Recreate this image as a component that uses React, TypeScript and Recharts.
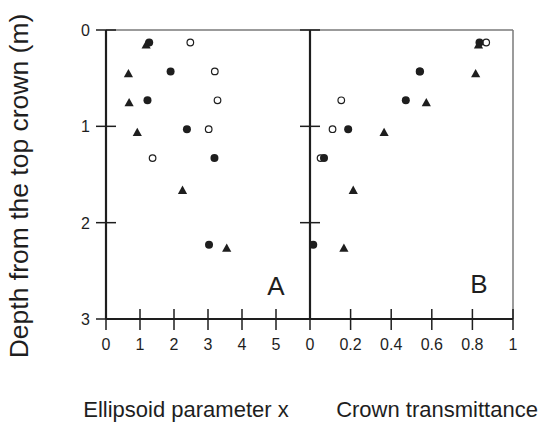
import { ScatterChart, Scatter, XAxis, YAxis, ReferenceLine } from 'recharts';

// depth from the top of the crown (m)
const depthOpen = [0.13, 0.43, 0.73, 1.03, 1.33];
const depthFilled = [0.13, 0.43, 0.73, 1.03, 1.33, 2.23];
const depthTri = [0.15, 0.45, 0.75, 1.06, 1.66, 2.26];

// panel A: ellipsoid parameter x
const ellOpen = [2.48, 3.2, 3.28, 3.02, 1.37];
const ellFilled = [1.27, 1.9, 1.22, 2.38, 3.19, 3.03];
const ellTri = [1.18, 0.66, 0.68, 0.92, 2.25, 3.55];

// panel B: crown transmittance
const trOpen = [0.868, 0.54, 0.154, 0.111, 0.052];
const trFilled = [0.835, 0.542, 0.472, 0.188, 0.069, 0.016];
const trTri = [0.83, 0.816, 0.573, 0.365, 0.213, 0.167];

const depthTicks = [0, 1, 2, 3];
const ellTicks = [0, 1, 2, 3, 4, 5];
const trTicks = [0, 0.2, 0.4, 0.6, 0.8, 1];

const FONT = '"Liberation Sans", Arial, Helvetica, sans-serif';
const INK = '#1e1e1e';

const toPoints = (xs: number[], ys: number[]) => xs.map((x, i) => ({ x, y: ys[i] }));

const OpenDot = ({ cx, cy }: any) => (
  <circle cx={cx} cy={cy} r={3.3} fill="#fff" stroke={INK} strokeWidth={1.2} />
);
const FilledDot = ({ cx, cy }: any) => <circle cx={cx} cy={cy} r={4} fill={INK} />;
const Tri = ({ cx, cy }: any) => (
  <path d={`M${cx},${cy - 4.3} L${cx + 4.6},${cy + 4} L${cx - 4.6},${cy + 4} Z`} fill={INK} />
);

const makeYTick = (showLabel: boolean) => (props: any) => {
  const { x, y, payload } = props;
  const axisX = x + 16;
  return (
    <g>
      <line x1={axisX - 10} x2={axisX + 10} y1={y} y2={y} stroke={INK} strokeWidth={1.5} />
      {showLabel && (
        <text x={x} y={y + 6} textAnchor="end" fontSize={16} fill={INK} fontFamily={FONT}>
          {payload.value}
        </text>
      )}
    </g>
  );
};

const XTick = (props: any) => {
  const { x, y, payload } = props;
  const axisY = y - 16;
  return (
    <g>
      <line x1={x} x2={x} y1={axisY - 10} y2={axisY + 11} stroke={INK} strokeWidth={1.5} />
      <text x={x} y={axisY + 31} textAnchor="middle" fontSize={16} fill={INK} fontFamily={FONT}>
        {payload.value}
      </text>
    </g>
  );
};

function Panel({
  left,
  width,
  margin,
  yWidth,
  xDomain,
  xTicks,
  showYLabels,
  open,
  filled,
  tri,
  rightBorder,
}: any) {
  return (
    <div style={{ position: 'absolute', left, top: 0 }}>
      <ScatterChart width={width} height={425} margin={margin}>
        <XAxis
          type="number"
          dataKey="x"
          domain={xDomain}
          ticks={xTicks}
          interval={0}
          allowDataOverflow
          height={30}
          axisLine={{ stroke: INK, strokeWidth: 2.2 }}
          tickLine={false}
          tickSize={10}
          tickMargin={6}
          tick={<XTick />}
        />
        <YAxis
          type="number"
          dataKey="y"
          domain={[0, 3]}
          ticks={depthTicks}
          reversed
          width={yWidth}
          axisLine={{ stroke: INK, strokeWidth: 2.2 }}
          tickLine={false}
          tickSize={10}
          tickMargin={6}
          tick={makeYTick(showYLabels)}
        />
        <ReferenceLine y={0} stroke="#7a7a7a" strokeWidth={1.5} />
        {rightBorder && <ReferenceLine x={xDomain[1]} stroke="#7a7a7a" strokeWidth={1.5} />}
        <Scatter data={open} shape={<OpenDot />} isAnimationActive={false} />
        <Scatter data={filled} shape={<FilledDot />} isAnimationActive={false} />
        <Scatter data={tri} shape={<Tri />} isAnimationActive={false} />
      </ScatterChart>
    </div>
  );
}

export default function App() {
  return (
    <div
      style={{
        position: 'absolute',
        left: 0,
        top: 0,
        width: 540,
        height: 425,
        background: '#fff',
        overflow: 'hidden',
        fontFamily: FONT,
      }}
    >
      <Panel
        left={0}
        width={310}
        margin={{ top: 30, right: 0, bottom: 76, left: 76 }}
        yWidth={30}
        xDomain={[0, 6]}
        xTicks={ellTicks}
        showYLabels
        open={toPoints(ellOpen, depthOpen)}
        filled={toPoints(ellFilled, depthFilled)}
        tri={toPoints(ellTri, depthTri)}
        rightBorder={false}
      />
      <Panel
        left={290}
        width={250}
        margin={{ top: 30, right: 27, bottom: 76, left: 0 }}
        yWidth={20}
        xDomain={[0, 1]}
        xTicks={trTicks}
        showYLabels={false}
        open={toPoints(trOpen, depthOpen)}
        filled={toPoints(trFilled, depthFilled)}
        tri={toPoints(trTri, depthTri)}
        rightBorder
      />
      <svg
        width={540}
        height={425}
        style={{ position: 'absolute', left: 0, top: 0, pointerEvents: 'none' }}
        fontFamily={FONT}
        fill={INK}
      >
        <text transform="translate(28,186) rotate(-90)" textAnchor="middle" fontSize={26.5}>
          Depth from the top crown (m)
        </text>
        <text x={186} y={417} textAnchor="middle" fontSize={22}>
          Ellipsoid parameter x
        </text>
        <text x={437} y={417} textAnchor="middle" fontSize={22}>
          Crown transmittance
        </text>
        <text x={276} y={295} textAnchor="middle" fontSize={26}>
          A
        </text>
        <text x={479} y={293} textAnchor="middle" fontSize={26}>
          B
        </text>
      </svg>
    </div>
  );
}
